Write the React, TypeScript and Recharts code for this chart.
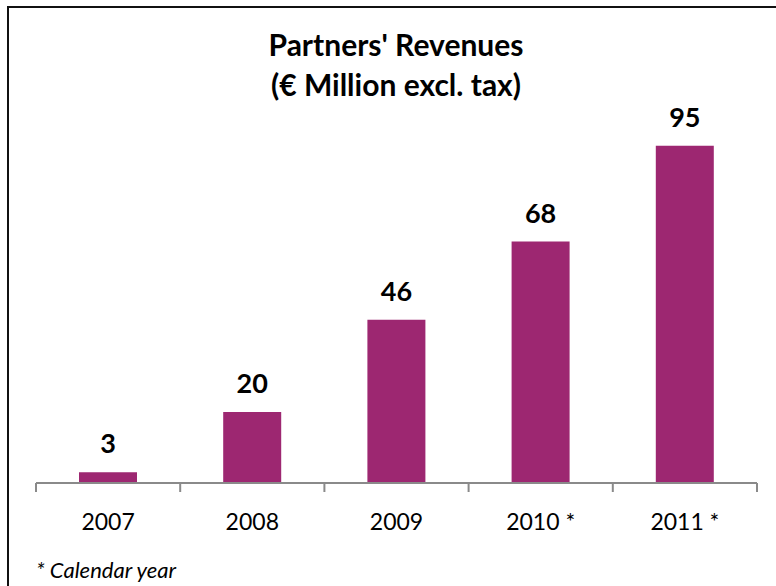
import React from 'react';
import { BarChart, Bar, XAxis, YAxis, LabelList } from 'recharts';

const years = ['2007', '2008', '2009', '2010 *', '2011 *'];
const revenues = [3, 20, 46, 68, 95];
const titleLines = ["Partners' Revenues", '(€ Million excl. tax)'];
const footnote = '* Calendar year';

const data = years.map((year, i) => ({ year, revenue: revenues[i] }));

const FONT = 'Lato, "Open Sans", sans-serif';
const BAR_COLOR = '#9D2771';
const AXIS_COLOR = '#8A8A8A';

// tick label plus the boundary tick marks between categories
const YearTick = (props: any) => {
  const { x, y, payload, index, visibleTicksCount } = props;
  const half = payload?.offset ?? 72;
  const isLast = index === visibleTicksCount - 1;
  return (
    <g>
      <line x1={x - half} x2={x - half} y1={y} y2={y + 9} stroke={AXIS_COLOR} strokeWidth={2} />
      {isLast && (
        <line x1={x + half} x2={x + half} y1={y} y2={y + 9} stroke={AXIS_COLOR} strokeWidth={2} />
      )}
      <text x={x} y={y + 47} textAnchor="middle" fontFamily={FONT} fontSize={23} fill="#000">
        {payload.value}
      </text>
    </g>
  );
};

export default function App() {
  return (
    <div style={{ position: 'fixed', left: 0, top: 0, width: 776, height: 586, background: '#fff' }}>
      <div style={{ position: 'absolute', left: 0, top: 0 }}>
        <BarChart
          width={776}
          height={586}
          data={data}
          margin={{ top: 128, right: 19, bottom: 43, left: 36 }}
        >
          <XAxis
            dataKey="year"
            height={60}
            axisLine={{ stroke: AXIS_COLOR, strokeWidth: 2 }}
            tickLine={false}
            tickSize={0}
            tickMargin={0}
            interval={0}
            tick={<YearTick />}
          />
          <YAxis hide domain={[0, 100]} />
          <Bar dataKey="revenue" fill={BAR_COLOR} barSize={58} isAnimationActive={false}>
            <LabelList
              dataKey="revenue"
              position="top"
              offset={19}
              fill="#000"
              fontFamily={FONT}
              fontSize={27}
              fontWeight="bold"
            />
          </Bar>
        </BarChart>
      </div>
      <svg
        width={776}
        height={586}
        style={{ position: 'absolute', left: 0, top: 0, pointerEvents: 'none' }}
      >
        {/* frame: only the top and left edges show */}
        <line x1={7} y1={7} x2={776} y2={7} stroke="#111" strokeWidth={2} />
        <line x1={8} y1={6} x2={8} y2={586} stroke="#111" strokeWidth={2} />
        <text x={396} y={56} textAnchor="middle" fontFamily={FONT} fontSize={30} fontWeight="bold">
          {titleLines[0]}
        </text>
        <text x={396} y={96} textAnchor="middle" fontFamily={FONT} fontSize={30} fontWeight="bold">
          {titleLines[1]}
        </text>
        <text x={36} y={578} fontFamily={FONT} fontSize={22} fontStyle="italic">
          {footnote}
        </text>
      </svg>
    </div>
  );
}
